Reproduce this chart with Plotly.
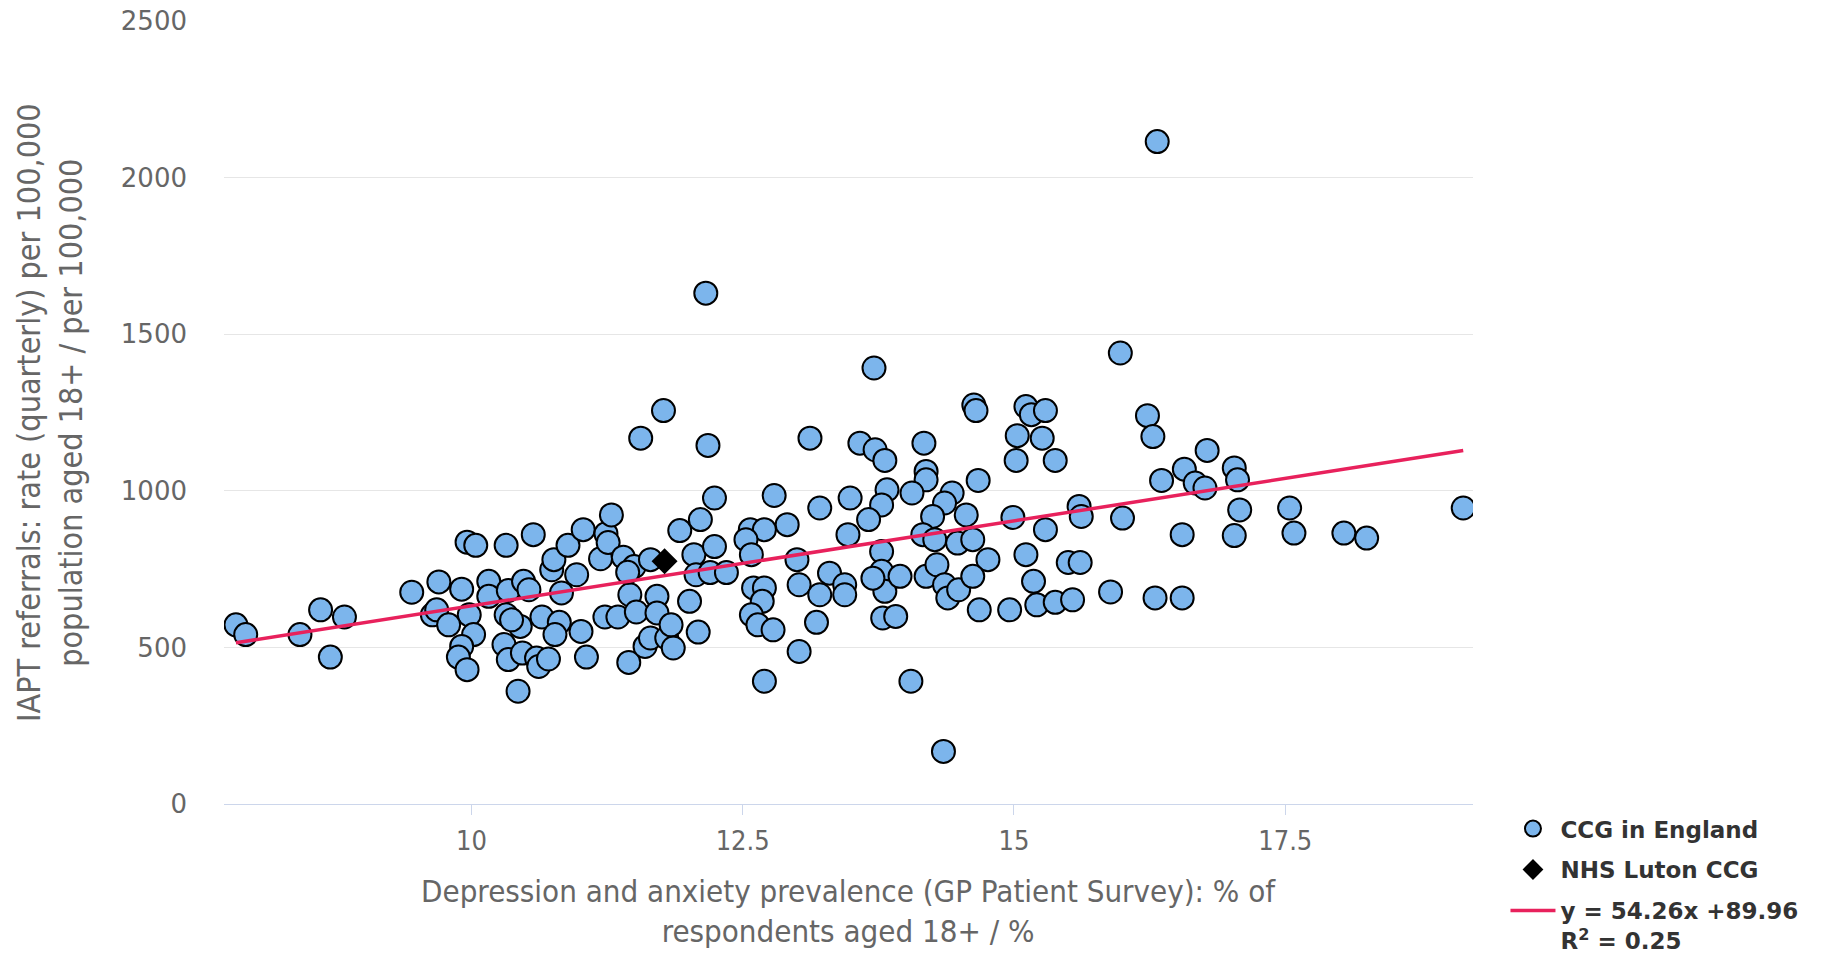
import plotly.graph_objects as go

# ---- Data: CCGs in England (x = depression/anxiety prevalence %, y = IAPT referrals per 100,000)
ccg_x = [
    7.83, 7.92, 8.42, 8.61, 8.83, 8.70, 9.45, 9.70, 9.64, 9.68, 9.91, 9.96, 10.04, 10.32, 10.57,
    10.16, 10.16, 9.98, 9.79, 10.02, 9.91, 9.88, 9.96, 10.32, 10.34, 10.48, 10.53, 10.45, 10.37,
    10.30, 10.34, 10.47, 10.60, 10.62, 10.71, 10.43, 10.65, 10.81, 10.77, 10.83, 10.74, 10.76,
    10.89, 11.03, 10.97, 11.01, 11.06, 11.19, 11.24, 11.26, 11.29, 11.40, 11.50, 11.46, 11.23,
    11.35, 11.52, 11.45, 11.56, 11.65, 11.60, 11.65, 11.44,
    11.77, 12.18, 13.12, 13.58, 13.72, 13.81, 14.17, 14.63, 14.65, 15.11, 15.16, 15.29, 15.03,
    15.26, 15.02, 15.38, 14.19, 14.19, 14.67, 12.24, 12.79, 13.21, 13.49, 13.83, 13.78, 13.66,
    14.06, 14.43, 14.36, 14.25, 14.56, 14.99, 15.60, 15.62, 15.29, 11.92, 12.11,
    12.05, 12.24, 12.07, 12.20, 12.35, 12.57, 12.70, 12.53, 12.58, 12.91, 13.00, 13.47, 13.78,
    13.78, 13.81, 13.95, 13.79, 13.91, 14.16, 14.27, 14.48, 14.62, 14.76, 14.19, 14.29, 14.36,
    14.39, 14.49, 14.62, 14.68, 14.96, 15.11, 15.18, 15.21, 15.38, 15.54, 15.50, 15.61, 12.60,
    12.70, 12.68, 12.58, 12.64, 12.78, 13.02, 13.21, 13.30, 13.44, 13.44, 13.18, 13.02, 12.70,
    14.05, 14.35, 12.09, 12.01, 13.70, 11.71, 11.71, 11.80, 11.86, 11.84,
    16.23, 16.28, 16.78, 16.57, 16.36, 16.67, 16.76, 17.03, 17.06, 17.08, 17.54, 17.58, 18.04,
    18.25, 19.14, 16.00, 16.55, 17.03, 15.89, 16.30, 16.55,
    16.32, 15.98, 12.16, 13.71,
]
ccg_y = [
    572, 541, 541, 620, 597, 469, 676, 709, 604, 620, 686, 836, 826, 826, 860,
    711, 663, 604, 572, 541, 503, 469, 429, 604, 682, 711, 684, 567, 588,
    509, 461, 482, 466, 439, 463, 360, 597, 580, 541, 674, 748, 780,
    826, 876, 732, 551, 469, 783, 863, 835, 923, 788, 758, 668, 597,
    597, 613, 452, 1168, 780, 503, 530, 740,
    1256, 1145, 1168, 1152, 1131, 1097, 1152, 1274, 1256, 1269, 1243, 1256, 1176,
    1168, 1097, 1097, 1062, 1035, 1033, 977, 985, 945, 977, 1003, 955, 908,
    993, 993, 961, 918, 923, 915, 950, 918, 876, 873, 908,
    796, 822, 732, 739, 739, 876, 876, 844, 796, 892, 780, 860, 806,
    743, 679, 727, 594, 599, 860, 844, 833, 844, 780, 727, 764, 700,
    658, 684, 727, 620, 620, 796, 711, 636, 644, 652, 771, 771, 690,
    690, 647, 604, 572, 556, 700, 668, 737, 700, 668, 580, 487, 392,
    392, 168, 549, 647, 721, 663, 610, 530, 498, 572,
    1240, 1173, 1129, 1069, 1033, 1025, 1009, 1073, 1035, 939, 945, 865, 865,
    849, 945, 913, 860, 857, 677, 658, 658,
    2115, 1440, 1631, 1392,
]

luton_x = [11.78]
luton_y = [775]

trend_slope = 54.26
trend_intercept = 89.96
trend_r2 = 0.25

x_ticks = [10, 12.5, 15, 17.5]
x_tick_labels = ["10", "12.5", "15", "17.5"]
y_ticks = [0, 500, 1000, 1500, 2000, 2500]
y_tick_labels = ["0", "500", "1000", "1500", "2000", "2500"]

x_title = "Depression and anxiety prevalence (GP Patient Survey): % of<br>respondents aged 18+ / %"
y_title = "IAPT referrals: rate (quarterly) per 100,000<br>population aged 18+ / per 100,000"

# ---- Figure
trend_x = [min(ccg_x), max(ccg_x)]
trend_y = [trend_slope * v + trend_intercept for v in trend_x]

X_TITLE_FONT = dict(family="DejaVu Sans Condensed, DejaVu Sans, sans-serif", size=31, color="#666666")
Y_TITLE_FONT = dict(family="DejaVu Sans Condensed, DejaVu Sans, sans-serif", size=32, color="#666666")

fig = go.Figure()
fig.add_trace(go.Scatter(
    x=ccg_x, y=ccg_y, mode="markers", name="CCG in England",
    legendgroup="a", legendrank=1,
    marker=dict(size=23, color="#7cb5ec", line=dict(color="#000000", width=2)),
))
fig.add_trace(go.Scatter(
    x=trend_x, y=trend_y, mode="lines",
    name=f"y = {trend_slope}x +{trend_intercept}<br>R<sup>2</sup> = {trend_r2}",
    legendgroup="c", legendrank=3,
    line=dict(color="#e8215c", width=3.5),
))
fig.add_trace(go.Scatter(
    x=luton_x, y=luton_y, mode="markers", name="NHS Luton CCG",
    legendgroup="b", legendrank=2,
    marker=dict(symbol="diamond", size=20, color="#000000", line=dict(width=0)),
))

fig.update_layout(
    width=1821, height=955,
    margin=dict(l=224, r=348, t=21, b=151, autoexpand=False),
    paper_bgcolor="white", plot_bgcolor="white",
    showlegend=True,
    legend=dict(
        x=1.026, y=-0.004, xanchor="left", yanchor="top",
        font=dict(family="DejaVu Sans, sans-serif", size=23, color="#333333", weight="bold"),
        itemsizing="trace", itemwidth=45, tracegroupgap=8, valign="top",
        bgcolor="rgba(0,0,0,0)",
    ),
    xaxis=dict(
        range=[7.72, 19.23], tickmode="array", tickvals=x_ticks, ticktext=x_tick_labels,
        showgrid=False, zeroline=False,
        showline=True, linecolor="#ccd6eb", linewidth=1,
        ticks="outside", ticklen=10, tickcolor="#ccd6eb",
        ticklabelstandoff=3,
        tickfont=dict(family="DejaVu Sans Condensed, DejaVu Sans, sans-serif", size=27, color="#666666"),
    ),
    yaxis=dict(
        range=[0, 2500], tickmode="array", tickvals=y_ticks, ticktext=y_tick_labels,
        showgrid=True, gridcolor="#e6e6e6", gridwidth=1, zeroline=False, showline=False,
        ticklabelstandoff=36,
        tickfont=dict(family="DejaVu Sans, sans-serif", size=26, color="#666666"),
    ),
    annotations=[
        dict(text=x_title, xref="paper", yref="paper", x=0.5, y=-0.137,
             xanchor="center", yanchor="middle", showarrow=False, font=X_TITLE_FONT),
        dict(text=y_title, xref="paper", yref="paper", x=-0.1397, y=0.5,
             xanchor="center", yanchor="middle", showarrow=False, textangle=-90, font=Y_TITLE_FONT),
    ],
)

fig.write_html("out.html", config={"displayModeBar": False},
               post_script="document.body.style.margin='0';")
